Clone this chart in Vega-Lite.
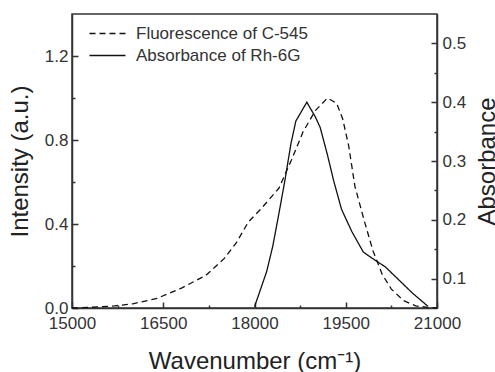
{
  "$schema": "https://vega.github.io/schema/vega-lite/v6.json",
  "width": 365,
  "height": 294,
  "autosize": {"type": "none"},
  "padding": {"left": 72, "top": 14, "right": 58, "bottom": 64},
  "background": "white",
  "config": {
    "font": "Liberation Sans",
    "view": {"stroke": "#333", "strokeWidth": 1.5},
    "axis": {
      "grid": false,
      "domainColor": "#333",
      "domainWidth": 1.5,
      "tickColor": "#333",
      "tickWidth": 1.5,
      "labelFontSize": 17,
      "labelColor": "#333",
      "titleFontSize": 24,
      "titleFontWeight": "normal",
      "titleColor": "#222",
      "labelOverlap": false,
      "labelFlush": false
    },
    "legend": {
      "labelFontSize": 17,
      "labelColor": "#333",
      "labelLimit": 0
    }
  },
  "datasets": {
    "fluor": [
      {"wn": 15000, "v": 0.0, "series": "Fluorescence of C-545"},
      {"wn": 15300, "v": 0.003, "series": "Fluorescence of C-545"},
      {"wn": 15700, "v": 0.01, "series": "Fluorescence of C-545"},
      {"wn": 16000, "v": 0.02, "series": "Fluorescence of C-545"},
      {"wn": 16400, "v": 0.046, "series": "Fluorescence of C-545"},
      {"wn": 16800, "v": 0.095, "series": "Fluorescence of C-545"},
      {"wn": 17200, "v": 0.155, "series": "Fluorescence of C-545"},
      {"wn": 17500, "v": 0.235, "series": "Fluorescence of C-545"},
      {"wn": 17700, "v": 0.31, "series": "Fluorescence of C-545"},
      {"wn": 17900, "v": 0.41, "series": "Fluorescence of C-545"},
      {"wn": 18100, "v": 0.47, "series": "Fluorescence of C-545"},
      {"wn": 18400, "v": 0.57, "series": "Fluorescence of C-545"},
      {"wn": 18600, "v": 0.7, "series": "Fluorescence of C-545"},
      {"wn": 18800, "v": 0.84, "series": "Fluorescence of C-545"},
      {"wn": 19000, "v": 0.94, "series": "Fluorescence of C-545"},
      {"wn": 19200, "v": 1.0, "series": "Fluorescence of C-545"},
      {"wn": 19350, "v": 0.975, "series": "Fluorescence of C-545"},
      {"wn": 19450, "v": 0.9, "series": "Fluorescence of C-545"},
      {"wn": 19550, "v": 0.77, "series": "Fluorescence of C-545"},
      {"wn": 19650, "v": 0.58, "series": "Fluorescence of C-545"},
      {"wn": 19800, "v": 0.42, "series": "Fluorescence of C-545"},
      {"wn": 19950, "v": 0.27, "series": "Fluorescence of C-545"},
      {"wn": 20100, "v": 0.16, "series": "Fluorescence of C-545"},
      {"wn": 20250, "v": 0.09, "series": "Fluorescence of C-545"},
      {"wn": 20450, "v": 0.035, "series": "Fluorescence of C-545"},
      {"wn": 20650, "v": 0.01, "series": "Fluorescence of C-545"},
      {"wn": 20850, "v": 0.003, "series": "Fluorescence of C-545"},
      {"wn": 21000, "v": 0.0, "series": "Fluorescence of C-545"}
    ],
    "absorb": [
      {"wn": 18000, "v": 0.052, "series": "Absorbance of Rh-6G"},
      {"wn": 18100, "v": 0.082, "series": "Absorbance of Rh-6G"},
      {"wn": 18200, "v": 0.112, "series": "Absorbance of Rh-6G"},
      {"wn": 18300, "v": 0.155, "series": "Absorbance of Rh-6G"},
      {"wn": 18400, "v": 0.21, "series": "Absorbance of Rh-6G"},
      {"wn": 18500, "v": 0.267, "series": "Absorbance of Rh-6G"},
      {"wn": 18600, "v": 0.33, "series": "Absorbance of Rh-6G"},
      {"wn": 18680, "v": 0.368, "series": "Absorbance of Rh-6G"},
      {"wn": 18860, "v": 0.4, "series": "Absorbance of Rh-6G"},
      {"wn": 19000, "v": 0.375, "series": "Absorbance of Rh-6G"},
      {"wn": 19080, "v": 0.357, "series": "Absorbance of Rh-6G"},
      {"wn": 19200, "v": 0.31, "series": "Absorbance of Rh-6G"},
      {"wn": 19300, "v": 0.267, "series": "Absorbance of Rh-6G"},
      {"wn": 19430, "v": 0.218, "series": "Absorbance of Rh-6G"},
      {"wn": 19600, "v": 0.18, "series": "Absorbance of Rh-6G"},
      {"wn": 19790, "v": 0.145, "series": "Absorbance of Rh-6G"},
      {"wn": 20000, "v": 0.13, "series": "Absorbance of Rh-6G"},
      {"wn": 20150, "v": 0.12, "series": "Absorbance of Rh-6G"},
      {"wn": 20400, "v": 0.095, "series": "Absorbance of Rh-6G"},
      {"wn": 20600, "v": 0.075, "series": "Absorbance of Rh-6G"},
      {"wn": 20850, "v": 0.053, "series": "Absorbance of Rh-6G"}
    ]
  },
  "layer": [
    {
      "data": {"name": "fluor"},
      "mark": {"type": "line", "color": "#111", "strokeWidth": 1.3},
      "encoding": {
        "x": {
          "field": "wn", "type": "quantitative",
          "scale": {"domain": [15000, 21000], "nice": false, "zero": false},
          "axis": {
            "title": "Wavenumber (cm⁻¹)",
            "values": [15000, 15750, 16500, 17250, 18000, 18750, 19500, 20250, 21000],
            "labelExpr": "datum.value % 1500 === 0 ? format(datum.value, 'd') : ''",
            "tickSize": {"condition": {"test": "datum.value % 1500 === 0", "value": -6}, "value": -3},
            "labelPadding": 13,
            "titlePadding": 15
          }
        },
        "y": {
          "field": "v", "type": "quantitative",
          "scale": {"domain": [0, 1.4], "nice": false},
          "axis": {
            "title": "Intensity (a.u.)",
            "orient": "left",
            "values": [0, 0.2, 0.4, 0.6, 0.8, 1.0, 1.2],
            "labelExpr": "round(datum.value * 10) % 4 === 0 ? format(datum.value, '.1f') : ''",
            "tickSize": {"condition": {"test": "round(datum.value * 10) % 4 === 0", "value": -6}, "value": -3},
            "labelPadding": 10,
            "titlePadding": 12
          }
        },
        "strokeDash": {
          "field": "series", "type": "nominal",
          "scale": {"domain": ["Fluorescence of C-545", "Absorbance of Rh-6G"], "range": [[6, 4], [1, 0]]},
          "legend": {
            "title": null,
            "orient": "none",
            "legendX": 27,
            "legendY": 11,
            "symbolType": "M-3,0H3",
            "symbolSize": 144,
            "symbolStrokeWidth": 1.3,
            "symbolStrokeColor": "#111",
            "symbolFillColor": "transparent",
            "labelOffset": 20,
            "rowPadding": 4,
            "padding": 0
          }
        }
      }
    },
    {
      "data": {"name": "absorb"},
      "mark": {"type": "line", "color": "#111", "strokeWidth": 1.3},
      "encoding": {
        "x": {"field": "wn", "type": "quantitative"},
        "y": {
          "field": "v", "type": "quantitative",
          "scale": {"domain": [0.05, 0.55], "nice": false, "zero": false},
          "axis": {
            "title": "Absorbance",
            "orient": "right",
            "titleAngle": 270,
            "values": [0.1, 0.15, 0.2, 0.25, 0.3, 0.35, 0.4, 0.45, 0.5],
            "labelExpr": "round(datum.value * 100) % 10 === 0 ? format(datum.value, '.1f') : ''",
            "tickSize": {"condition": {"test": "round(datum.value * 100) % 10 === 0", "value": -6}, "value": -3},
            "labelPadding": 11,
            "titlePadding": 34
          }
        },
        "strokeDash": {"field": "series", "type": "nominal"}
      }
    }
  ],
  "resolve": {"scale": {"y": "independent"}}
}
